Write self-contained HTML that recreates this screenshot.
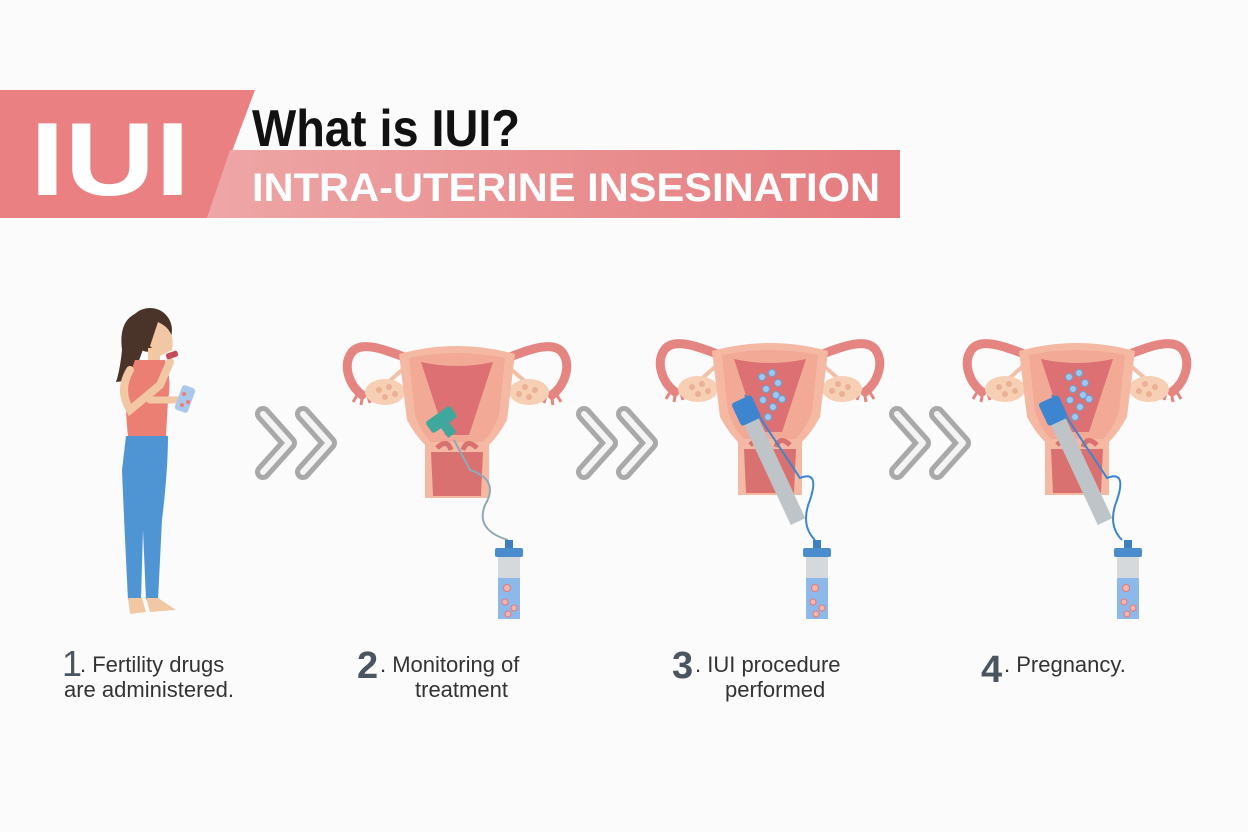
<!DOCTYPE html>
<html><head><meta charset="utf-8"><style>
html,body{margin:0;padding:0;background:#fbfbfb;}
svg{display:block}
</style></head><body>
<svg width="1248" height="832" viewBox="0 0 1248 832" xmlns="http://www.w3.org/2000/svg">
<defs>
<linearGradient id="band" x1="0" x2="1"><stop offset="0" stop-color="#eea6a6"/><stop offset="1" stop-color="#e57b7e"/></linearGradient>
<g id="ut">
  <path d="M-40,22 C-70,10 -95,0 -105,12 C-115,25 -108,45 -95,55" fill="none" stroke="#e58582" stroke-width="9" stroke-linecap="round"/>
  <path d="M40,22 C70,10 95,0 105,12 C115,25 108,45 95,55" fill="none" stroke="#e58582" stroke-width="9" stroke-linecap="round"/>
  <path d="M-98,52 l-6,10 M-94,54 l-2,11 M-90,53 l3,10 M98,52 l6,10 M94,54 l2,11 M90,53 l-3,10" stroke="#e58582" stroke-width="3"/>
  <path d="M-55,30 L-72,45 M55,30 L72,45" stroke="#f2c0a8" stroke-width="4"/>
  <ellipse cx="-72" cy="52" rx="20" ry="13" fill="#f6cfb5"/>
  <ellipse cx="72" cy="52" rx="20" ry="13" fill="#f6cfb5"/>
  <g fill="#eab196"><circle cx="-78" cy="50" r="3"/><circle cx="-68" cy="47" r="3"/><circle cx="-72" cy="57" r="3"/><circle cx="-62" cy="54" r="3"/><circle cx="78" cy="50" r="3"/><circle cx="68" cy="47" r="3"/><circle cx="72" cy="57" r="3"/><circle cx="62" cy="54" r="3"/></g>
  <path d="M-58,14 Q0,-2 58,14 L50,80 Q42,95 32,105 L32,158 L-32,158 L-32,105 Q-42,95 -50,80 Z" fill="#f5b9a3"/>
  <path d="M-48,18 Q0,8 48,18 L42,75 Q36,92 26,102 L-26,102 Q-36,92 -42,75Z" fill="#f2a996"/>
  <path d="M-36,22 Q0,30 36,22 L12,95 L-12,95 Z" fill="#dc7072"/>
  <path d="M-26,112 L26,112 L24,156 L-24,156 Z" fill="#d8716f"/>
  <path d="M-20,108 Q-10,98 -6,110 M20,108 Q10,98 6,110" stroke="#d8716f" stroke-width="5" fill="none"/>
</g>
<g id="tube">
  <rect x="-4" y="-8" width="8" height="10" fill="#3f7fbf"/>
  <rect x="-14" y="0" width="28" height="9" rx="2" fill="#4a8ccc"/>
  <rect x="-11" y="9" width="22" height="62" fill="#d6d9dc"/>
  <rect x="-11" y="30" width="22" height="41" fill="#8cb8ea"/>
  <g fill="#f3b5b0" stroke="#e57a76" stroke-width="1"><circle cx="-2" cy="40" r="3.5"/><circle cx="-4" cy="54" r="3"/><circle cx="5" cy="60" r="3"/><circle cx="-1" cy="66" r="3"/></g>
</g>
<g id="chev">
  <path d="M0,0 L26,29 L0,58" fill="none" stroke="#a9a9a9" stroke-width="16" stroke-linejoin="round" stroke-linecap="round"/>
  <path d="M0,0 L26,29 L0,58" fill="none" stroke="#f4f4f4" stroke-width="6" stroke-linejoin="round" stroke-linecap="round"/>
  <path d="M40,0 L66,29 L40,58" fill="none" stroke="#a9a9a9" stroke-width="16" stroke-linejoin="round" stroke-linecap="round"/>
  <path d="M40,0 L66,29 L40,58" fill="none" stroke="#f4f4f4" stroke-width="6" stroke-linejoin="round" stroke-linecap="round"/>
</g>
<g id="sperm" fill="#9ec8ef" stroke="#6aa3d8" stroke-width="1">
  <circle cx="-8" cy="40" r="3.5"/><circle cx="2" cy="36" r="3.5"/><circle cx="8" cy="46" r="3.5"/><circle cx="-4" cy="52" r="3.5"/><circle cx="6" cy="58" r="3.5"/><circle cx="-7" cy="63" r="3.5"/><circle cx="3" cy="70" r="3.5"/><circle cx="-2" cy="80" r="3.5"/><circle cx="12" cy="62" r="3.5"/>
</g>
</defs>

<polygon points="0,90 255,90 207,218 0,218" fill="#ea8082"/>
<polygon points="230,150 900,150 900,218 207,218" fill="url(#band)"/>
<text x="30" y="195" font-family="Liberation Sans, sans-serif" font-weight="bold" font-size="104" fill="#fff" textLength="160" lengthAdjust="spacingAndGlyphs">IUI</text>
<text x="252" y="146" font-family="Liberation Sans, sans-serif" font-weight="bold" font-size="52" fill="#111" textLength="268" lengthAdjust="spacingAndGlyphs">What is IUI?</text>
<text x="252" y="201" font-family="Liberation Sans, sans-serif" font-weight="bold" font-size="40" fill="#fff" textLength="628" lengthAdjust="spacingAndGlyphs">INTRA-UTERINE INSESINATION</text>

<g>
  <path d="M140,312 Q118,318 122,350 Q120,370 116,382 L132,380 L150,330 Z" fill="#4a3328"/>
  <ellipse cx="150" cy="330" rx="22" ry="22" fill="#4a3328"/>
  <path d="M158,322 Q176,330 172,350 L160,356 L150,346 Z" fill="#f2c7a3"/>
  <rect x="148" y="348" width="12" height="14" fill="#f2c7a3"/>
  <path d="M135,360 L165,360 Q172,380 168,400 L166,436 L128,436 Q124,400 128,380 Z" fill="#ec7f74"/>
  <path d="M130,370 Q118,390 130,410 L160,385 L170,362" fill="none" stroke="#f2c7a3" stroke-width="8" stroke-linecap="round"/>
  <path d="M150,400 L180,400" stroke="#f2c7a3" stroke-width="7" stroke-linecap="round"/>
  <rect x="178" y="386" width="14" height="26" rx="3" fill="#a9c8ec" transform="rotate(20 185 399)"/>
  <circle cx="184" cy="394" r="2" fill="#ec7f74"/><circle cx="188" cy="402" r="2" fill="#ec7f74"/><circle cx="182" cy="405" r="2" fill="#ec7f74"/>
  <rect x="166" y="352" width="12" height="6" rx="2" fill="#c44a5a" transform="rotate(-20 172 355)"/>
  <path d="M126,436 L168,436 Q168,470 162,520 L158,600 L146,600 L143,530 L141,600 L128,600 Q124,520 122,470 Z" fill="#4f95d4"/>
  <path d="M128,598 L142,598 L146,612 L130,614 Z M146,598 L158,598 L176,610 L150,612 Z" fill="#f2c7a3"/>
</g>

<use href="#chev" x="263" y="414"/>
<use href="#chev" x="584" y="414"/>
<use href="#chev" x="897" y="414"/>

<use href="#ut" x="457" y="340"/>
<path d="M454,440 L470,470 Q500,480 485,505 Q475,530 508,540" fill="none" stroke="#8fa9b8" stroke-width="2"/>
<g transform="rotate(-35 443 422)"><rect x="428" y="412" width="30" height="14" rx="3" fill="#3fa89c"/><rect x="438" y="426" width="10" height="12" fill="#3fa89c"/></g>
<use href="#tube" x="509" y="548"/>

<use href="#ut" x="770" y="337"/>
<use href="#sperm" x="770" y="337"/>
<g transform="rotate(-25 760 440)">
<rect x="752" y="410" width="16" height="120" fill="#bfc4c8"/>
<rect x="749" y="395" width="22" height="25" rx="3" fill="#3d86cf"/>
</g>
<path d="M745,395 L800,478 Q820,470 810,500 Q800,525 815,540" fill="none" stroke="#3d86cf" stroke-width="2"/>
<use href="#tube" x="817" y="548"/>

<use href="#ut" x="1077" y="337"/>
<use href="#sperm" x="1077" y="337"/>
<g transform="rotate(-25 1067 440)">
<rect x="1059" y="410" width="16" height="120" fill="#bfc4c8"/>
<rect x="1056" y="395" width="22" height="25" rx="3" fill="#3d86cf"/>
</g>
<path d="M1052,395 L1107,478 Q1127,470 1117,500 Q1107,525 1122,540" fill="none" stroke="#3d86cf" stroke-width="2"/>
<use href="#tube" x="1128" y="548"/>

<g font-family="Liberation Sans, sans-serif" fill="#333">
<text x="62" y="676" font-size="36" fill="#4a5560">1</text>
<text x="80" y="672" font-size="22">. Fertility drugs</text>
<text x="64" y="697" font-size="22">are administered.</text>
<text x="357" y="678" font-size="38" font-weight="bold" fill="#4a5560">2</text>
<text x="380" y="672" font-size="22">. Monitoring of</text>
<text x="415" y="697" font-size="22">treatment</text>
<text x="672" y="678" font-size="38" font-weight="bold" fill="#4a5560">3</text>
<text x="695" y="672" font-size="22">. IUI procedure</text>
<text x="725" y="697" font-size="22">performed</text>
<text x="981" y="682" font-size="38" font-weight="bold" fill="#4a5560">4</text>
<text x="1004" y="672" font-size="22">. Pregnancy.</text>
</g>
</svg>
</body></html>
